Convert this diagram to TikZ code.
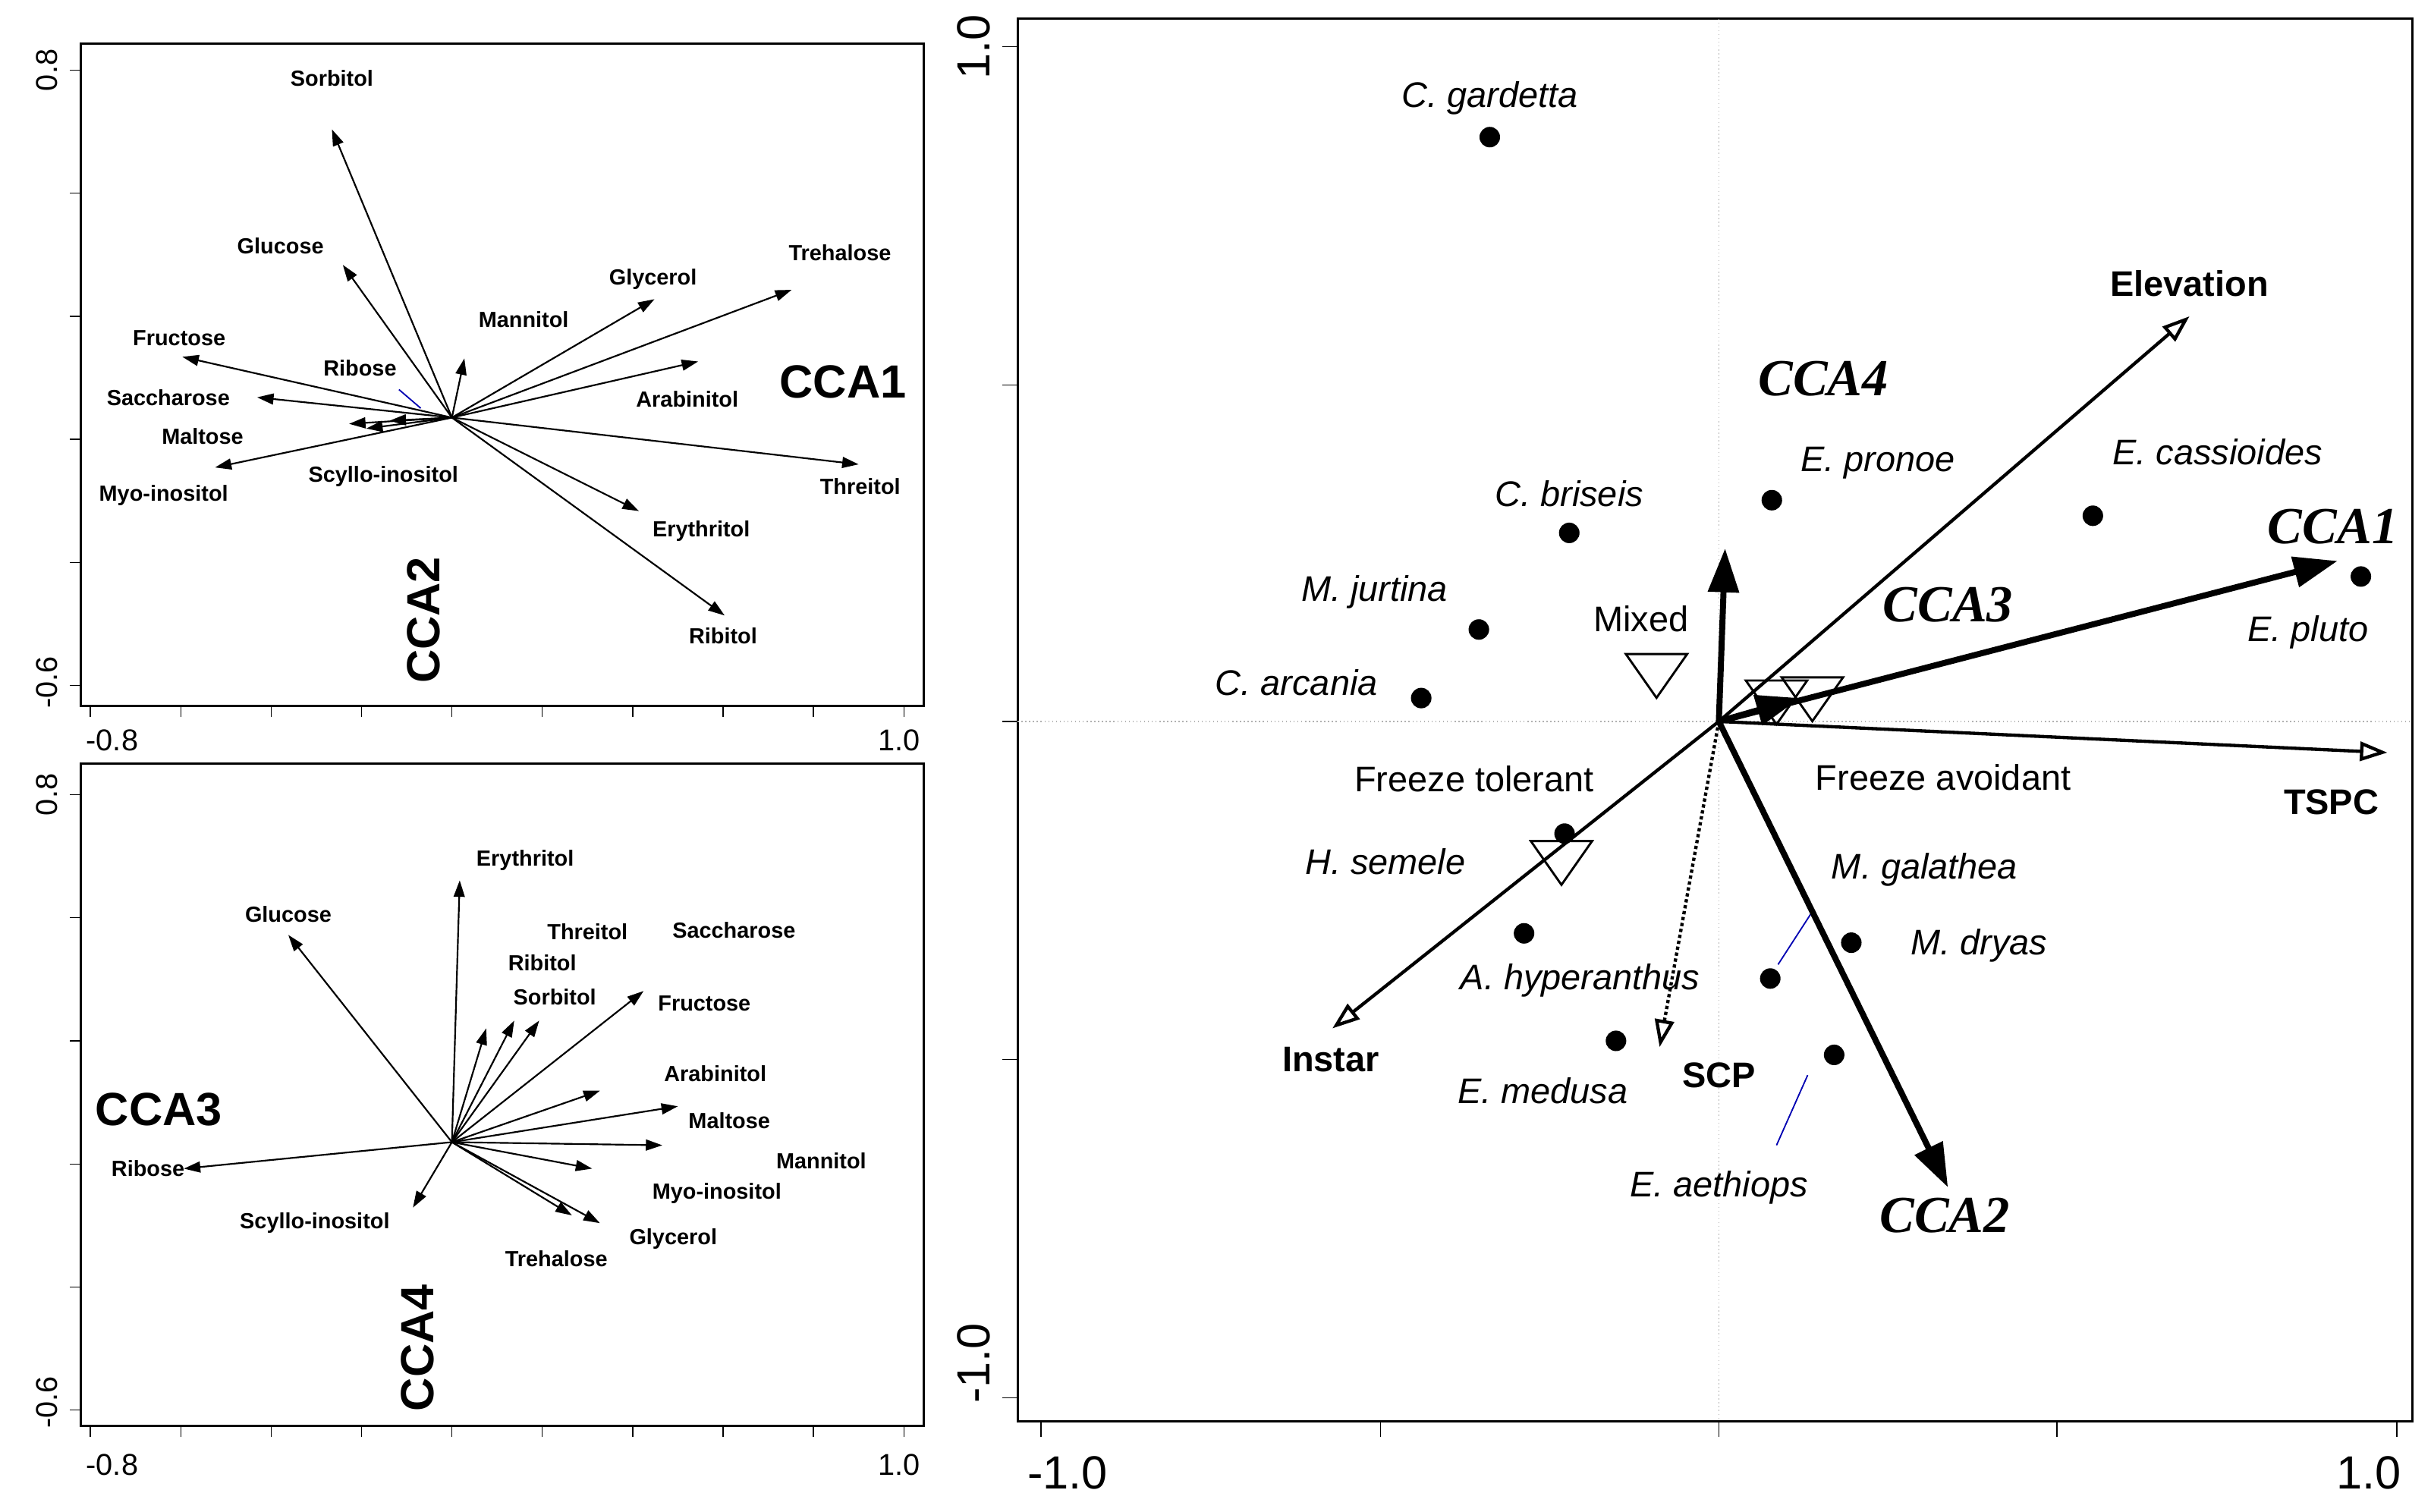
\documentclass[tikz,border=0pt]{standalone}
\usepackage{fontspec}
\setmainfont{Liberation Sans}
\newfontfamily\tms{Liberation Serif}
\usetikzlibrary{arrows.meta,shapes.geometric}
\begin{document}
\begin{tikzpicture}[x=0.02cm,y=-0.02cm,
 sm/.style={font=\fontsize{8}{9}\selectfont\bfseries},
 big/.style={font=\fontsize{17}{19}\selectfont\bfseries},
 tk/.style={font=\fontsize{11}{12}\selectfont},
 tkb/.style={font=\fontsize{17}{19}\selectfont},
 lab/.style={font=\fontsize{13}{15}\selectfont},
 labb/.style={font=\fontsize{13}{15}\selectfont\bfseries},
 it/.style={font=\fontsize{13}{15}\selectfont\itshape},
 cca/.style={font=\fontsize{19}{21}\selectfont\tms\bfseries\itshape},
 va/.style={-{Triangle[length=6pt,width=4pt]},line width=0.6pt},
 open/.style={-{Triangle[open,length=10pt,width=7pt]},line width=1.2pt},
 fat/.style={-{Triangle[length=16pt,width=11pt]},line width=2.2pt},
 dot/.style={circle,fill=black,inner sep=0pt,minimum size=7.5pt},
 tri/.style={draw,isosceles triangle,shape border rotate=-90,isosceles triangle apex angle=70,inner sep=0pt,minimum height=16pt,line width=0.8pt,fill=none}]
\useasboundingbox (0,0) rectangle (1560,970);
% ---- top-left panel
\draw[line width=0.8pt] (52,28) rectangle (593,453);
\foreach \x in {58,116,174,232,290,348,406,464,522,580} \draw (\x,453)--(\x,460);
\foreach \y in {45,124,203,282,361,440} \draw (52,\y)--(45,\y);
\node[tk,rotate=90] (t1) at (30,45) {0.8};
\node[tk,rotate=90] (t2) at (30,438) {-0.6};
\node[tk] (t3) at (72,475) {-0.8};
\node[tk] (t4) at (577,475) {1.0};
\coordinate (o1) at (290,268);
\foreach \px/\py/\n in {213/83/a,220/170/b,117/229/c,165/255/d,224/272/e,250/270/f,138/300/g,235/275/h,298/230/i,420/192/j,508/186/k,448/232/l,551/298/m,410/328/n,465/395/q}
  {\coordinate (e\n) at (\px,\py); \draw[va] (o1)--(e\n);}
\draw[blue!70!black,line width=0.5pt] (256,250)--(270,262);
\node[sm] (l1) at (213,50) {Sorbitol};
\node[sm] (l2) at (180,158) {Glucose};
\node[sm] (l3) at (115,217) {Fructose};
\node[sm] (l4) at (108,255) {Saccharose};
\node[sm] (l5) at (130,280) {Maltose};
\node[sm] (l6) at (105,318) {Myo-inositol};
\node[sm] (l7) at (246,306) {Scyllo-inositol};
\node[sm] (l8) at (231,236) {Ribose};
\node[sm] (l9) at (336,205) {Mannitol};
\node[sm] (l10) at (419,179) {Glycerol};
\node[sm] (l11) at (539,162) {Trehalose};
\node[sm] (l12) at (441,256) {Arabinitol};
\node[sm] (l13) at (552,312) {Threitol};
\node[sm] (l14) at (450,341) {Erythritol};
\node[sm] (l15) at (464,408) {Ribitol};
\node[big] (c1) at (541,245) {CCA1};
\node[big,rotate=90] (c2) at (272,398) {CCA2};
% ---- bottom-left panel
\draw[line width=0.8pt] (52,490) rectangle (593,915);
\foreach \x in {58,116,174,232,290,348,406,464,522,580} \draw (\x,915)--(\x,922);
\foreach \y in {510,589,668,747,826,905} \draw (52,\y)--(45,\y);
\node[tk,rotate=90] (t5) at (30,510) {0.8};
\node[tk,rotate=90] (t6) at (30,900) {-0.6};
\node[tk] (t7) at (72,940) {-0.8};
\node[tk] (t8) at (577,940) {1.0};
\coordinate (o2) at (290,733);
\foreach \px/\py/\n in {295/565/a,185/600/b,312/660/c,330/655/d,346/655/e,413/636/f,385/700/g,435/710/h,425/735/i,380/750/j,385/785/k,367/780/l,265/775/m,118/750/n}
  {\coordinate (f\n) at (\px,\py); \draw[va] (o2)--(f\n);}
\node[sm] (m1) at (337,552) {Erythritol};
\node[sm] (m2) at (185,587) {Glucose};
\node[sm] (m3) at (377,598) {Threitol};
\node[sm] (m4) at (348,618) {Ribitol};
\node[sm] (m5) at (356,640) {Sorbitol};
\node[sm] (m6) at (471,597) {Saccharose};
\node[sm] (m7) at (452,644) {Fructose};
\node[sm] (m8) at (459,689) {Arabinitol};
\node[sm] (m9) at (468,719) {Maltose};
\node[sm] (m10) at (527,745) {Mannitol};
\node[sm] (m11) at (460,766) {Myo-inositol};
\node[sm] (m12) at (432,795) {Glycerol};
\node[sm] (m13) at (357,808) {Trehalose};
\node[sm] (m14) at (202,785) {Scyllo-inositol};
\node[sm] (m15) at (95,750) {Ribose};
\node[big] (c3) at (102,712) {CCA3};
\node[big,rotate=90] (c4) at (268,865) {CCA4};
% ---- right panel
\draw[line width=0.8pt] (653,12) rectangle (1548,912);
\foreach \x in {668,886,1103,1320,1538} \draw (\x,912)--(\x,922);
\foreach \y in {30,247,463,680,897} \draw (653,\y)--(643,\y);
\node[tkb,rotate=90] (t9) at (625,30) {1.0};
\node[tkb,rotate=90] (t10) at (625,875) {-1.0};
\node[tkb] (t11) at (685,945) {-1.0};
\node[tkb] (t12) at (1520,945) {1.0};
\draw[gray!60,densely dotted] (653,463)--(1548,463);
\draw[gray!60,densely dotted] (1103,12)--(1103,912);
\coordinate (o3) at (1103,463);
\foreach \px/\py/\n/\t/\lx/\ly in {956/88/ga/{C. gardetta}/956/63,1007/342/br/{C. briseis}/1007/317,949/404/ju/{M. jurtina}/882/380,912/448/ar/{C. arcania}/832/438,1137/321/pr/{E. pronoe}/1205/297,1343/331/ca/{E. cassioides}/1423/290,1515/370/pl/{E. pluto}/1481/406,1004/535/se/{H. semele}/889/553,978/599/hy/{A. hyperanthus}/1014/629,1037/668/me/{E. medusa}/990/700,1136/628/gl/{M. galathea}/1235/558,1188/605/dr/{M. dryas}/1270/607,1177/677/ae/{E. aethiops}/1103/762}
  {\node[dot] (d\n) at (\px,\py) {}; \node[it] (n\n) at (\lx,\ly) {\t};}
\draw[blue!70!black,line width=0.5pt] (1141,619)--(1163,585);
\draw[blue!70!black,line width=0.5pt] (1160,690)--(1140,735);
\node[tri] (x1) at (1063,430) {};
\node[tri] (x2) at (1140,447) {};
\node[tri] (x3) at (1163,445) {};
\node[tri] (x4) at (1002,550) {};
\node[lab] (k1) at (1053,397) {Mixed};
\node[lab] (k2) at (1247,499) {Freeze avoidant};
\node[lab] (k3) at (946,500) {Freeze tolerant};
\coordinate (ev) at (1405,203); \coordinate (ts) at (1532,483);
\coordinate (in) at (855,660); \coordinate (sc) at (1065,672);
\draw[open] (o3)--(ev); \draw[open] (o3)--(ts); \draw[open] (o3)--(in);
\draw[open,densely dotted] (o3)--(sc);
\node[labb] (v1) at (1405,182) {Elevation};
\node[labb] (v2) at (1496,515) {TSPC};
\node[labb] (v3) at (854,680) {Instar};
\node[labb] (v4) at (1103,690) {SCP};
\coordinate (a4) at (1107,352); \coordinate (a1) at (1500,360);
\coordinate (a3) at (1155,448); \coordinate (a2) at (1250,762);
\draw[fat] (o3)--(a4); \draw[fat] (o3)--(a1); \draw[fat] (o3)--(a3); \draw[fat] (o3)--(a2);
\node[cca] (q4) at (1170,243) {CCA4};
\node[cca] (q1) at (1497,338) {CCA1};
\node[cca] (q3) at (1250,388) {CCA3};
\node[cca] (q2) at (1248,780) {CCA2};
\end{tikzpicture}
\end{document}
